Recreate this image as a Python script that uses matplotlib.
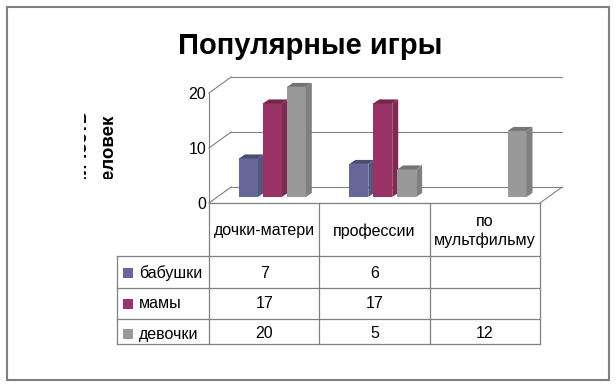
import matplotlib
matplotlib.use('Agg')
import matplotlib.pyplot as plt
from matplotlib.patches import Polygon, Rectangle
from matplotlib.lines import Line2D
from matplotlib.transforms import Affine2D, blended_transform_factory

# данные
categories = ['дочки-матери', 'профессии', 'по\nмультфильму']
series = ['бабушки', 'мамы', 'девочки']
babushki = [7, 6, None]
mamy = [17, 17, None]
devochki = [20, 5, 12]
values = [babushki, mamy, devochki]

front_colors = ['#666699', '#993366', '#999999']
side_colors = ['#55557f', '#7f2a55', '#808080']
top_colors = ['#4d4d73', '#732648', '#747474']

W, H = 616, 385
fig = plt.figure(figsize=(W / 100, H / 100), dpi=100)
FONT = ['Liberation Sans', 'DejaVu Sans']

# пиксели от верхнего левого угла
px = Affine2D().scale(1, -1).translate(0, H)

# рамка
fig.patches.append(Rectangle((7, 7), 602, 373, transform=px, fill=False,
                             edgecolor='#808080', linewidth=1.5))

fig.text(310, 46, 'Популярные игры', transform=px, ha='center', va='center',
         fontsize=21, fontweight='bold', family=FONT)

# ось
ax = fig.add_axes([209 / W, (H - 203) / H, 331 / W, 110 / H])
ax.set_xlim(0, 3)
ax.set_ylim(0, 20)
ax.patch.set_visible(False)
for s in ['top', 'right', 'bottom']:
    ax.spines[s].set_visible(False)
ax.spines['left'].set_color('#808080')
ax.spines['left'].set_linewidth(0.8)
ax.set_xticks([])
ax.set_yticks([0, 10, 20])
ax.tick_params(axis='y', length=0, pad=2, labelsize=11.5)
for t in ax.get_yticklabels():
    t.set_family(FONT)

# глубина
bdx, bdy = 0.2, 2.9
grid_c = '#808080'
for v in [0, 10, 20]:
    ax.plot([0, bdx], [v, v + bdy], color=grid_c, lw=0.8, clip_on=False)
    ax.plot([bdx, 3 + bdx], [v + bdy, v + bdy], color=grid_c, lw=0.8, clip_on=False)
ax.plot([3, 3 + bdx], [0, bdy], color=grid_c, lw=0.8, clip_on=False)

# столбцы
y0 = 1.1
step = 0.217
bw = 0.172
sdx, sdy = 0.054, 0.73
for k, vals in enumerate(values):
    for i, v in enumerate(vals):
        if v is None:
            continue
        left = i + 0.272 + k * step
        ax.bar(left, v, width=bw, bottom=y0, align='edge', color=front_colors[k],
               linewidth=0, clip_on=False, zorder=3)
        top = y0 + v
        side = Polygon([(left + bw, y0), (left + bw + sdx, y0 + sdy),
                        (left + bw + sdx, top + sdy), (left + bw, top)],
                       closed=True, facecolor=side_colors[k], linewidth=0,
                       clip_on=False, zorder=3)
        ax.add_patch(side)
        cap = Polygon([(left, top), (left + bw, top), (left + bw + sdx, top + sdy),
                       (left + sdx, top + sdy)], closed=True,
                      facecolor=top_colors[k], linewidth=0, clip_on=False, zorder=3)
        ax.add_patch(cap)

# таблица: x в данных оси, y в пикселях
tr = blended_transform_factory(ax.transData, px)
xl = (117 - 209) / 110.33
line_kw = dict(color='#808080', lw=0.9, transform=tr, clip_on=False)
for x in [0, 1, 2, 3]:
    ax.add_line(Line2D([x, x], [203, 344], **line_kw))
ax.add_line(Line2D([xl, xl], [256, 344], **line_kw))
ax.add_line(Line2D([0, 3], [203, 203], **line_kw))
for y in [256, 288, 319, 344]:
    ax.add_line(Line2D([xl, 3], [y, y], **line_kw))

for i, c in enumerate(categories):
    ax.text(i + 0.5, 231, c, transform=tr, ha='center', va='center',
            fontsize=11.5, family=FONT, linespacing=1.3)

row_y = [273, 304, 334]
for k, name in enumerate(series):
    ax.add_patch(Rectangle((123, row_y[k] - 5), 10, 10, transform=px,
                           facecolor=front_colors[k], linewidth=0, clip_on=False))
    ax.text(xl + (139 - 117) / 110.33, row_y[k], name, transform=tr, ha='left',
            va='center', fontsize=11.5, family=FONT)
    for i, v in enumerate(values[k]):
        if v is None:
            continue
        ax.text(i + 0.5, row_y[k], str(v), transform=tr, ha='center',
                va='center', fontsize=11.5, family=FONT)

# подпись оси (обрезана, как в оригинале)
lab = fig.text(95, 152, 'количество\nчеловек', transform=px, rotation=90,
               ha='center', va='center', fontsize=13.5, fontweight='bold',
               family=FONT, linespacing=1.75, multialignment='center')
clip = Rectangle((84, 113), 40, 66, transform=px)
lab.set_clip_path(clip)
lab.set_clip_on(True)

fig.savefig('out.png', dpi=100)
